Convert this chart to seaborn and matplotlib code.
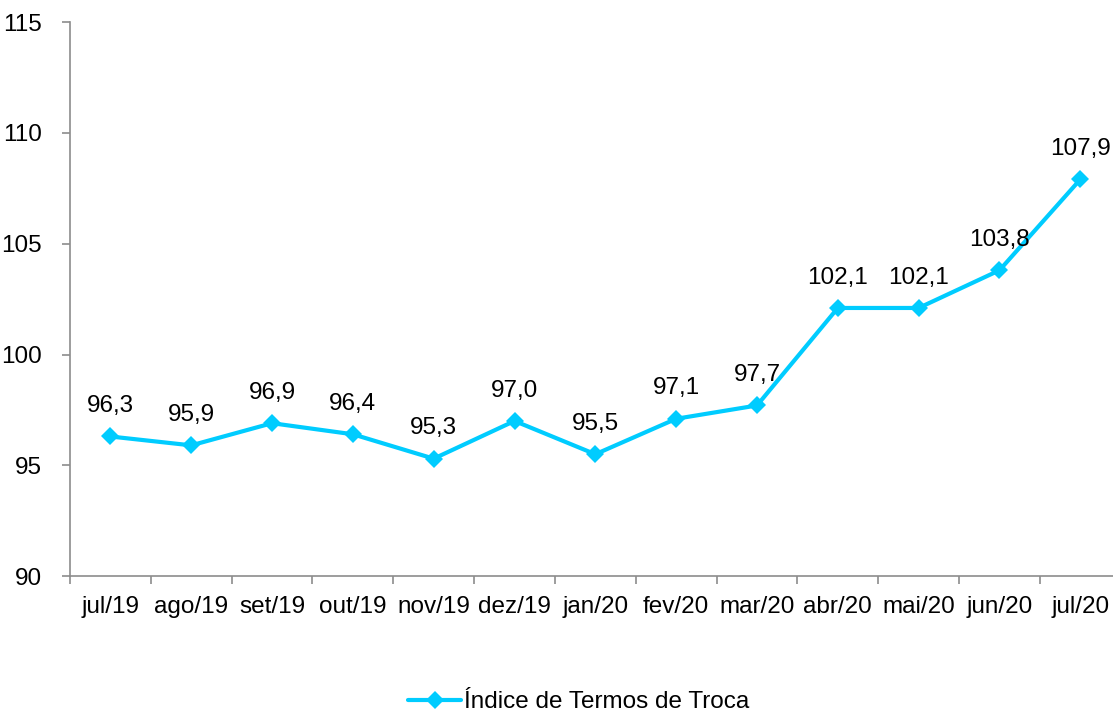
import numpy as np
import pandas as pd
import matplotlib
matplotlib.use('Agg')
import matplotlib.pyplot as plt
from matplotlib.ticker import FixedLocator
import seaborn as sns

# Data
months = ['jul/19', 'ago/19', 'set/19', 'out/19', 'nov/19', 'dez/19', 'jan/20',
          'fev/20', 'mar/20', 'abr/20', 'mai/20', 'jun/20', 'jul/20']
index_values = [96.3, 95.9, 96.9, 96.4, 95.3, 97.0, 95.5, 97.1, 97.7, 102.1, 102.1, 103.8, 107.9]
series_name = 'Índice de Termos de Troca'

sns.set_theme(style='white')
plt.rcParams['font.family'] = ['Liberation Sans', 'DejaVu Sans']

df = pd.DataFrame({'pos': np.arange(len(months)), 'value': index_values, 'serie': series_name})

line_color = '#00CCFF'
axis_color = '#8C8C8C'
fsize = 17.5

fig = plt.figure(figsize=(11.13, 7.13), dpi=100)
ax = fig.add_axes([0.0629, 0.192, 0.944, 0.777])

sns.lineplot(data=df, x='pos', y='value', hue='serie', palette=[line_color],
             marker='D', markersize=9, markeredgewidth=0, linewidth=3, ax=ax)

# data labels above points
for x, v in zip(df['pos'], df['value']):
    ax.annotate(f'{v:.1f}'.replace('.', ','), (x, v), xytext=(0, 14),
                textcoords='offset points', ha='center', va='bottom',
                fontsize=fsize, color='black')

ax.set_xlim(-0.5, len(months) - 0.5)
ax.set_ylim(90, 115)
ax.set_yticks(np.arange(90, 116, 5))
ax.set_xticks(df['pos'])
ax.set_xticklabels(months)
ax.xaxis.set_minor_locator(FixedLocator(np.arange(-0.5, len(months), 1)))
ax.tick_params(axis='x', which='major', length=0, pad=14, labelsize=fsize, colors='black')
ax.tick_params(axis='x', which='minor', length=6, width=1.2, color=axis_color, direction='out', bottom=True)
ax.tick_params(axis='y', length=6, width=1.2, color=axis_color, direction='out', left=True,
               labelsize=fsize, labelcolor='black', pad=14)
ax.set_xlabel('')
ax.set_ylabel('')

for side in ['top', 'right']:
    ax.spines[side].set_visible(False)
for side in ['left', 'bottom']:
    ax.spines[side].set_color(axis_color)
    ax.spines[side].set_linewidth(1.2)

leg = ax.legend(loc='center', bbox_to_anchor=(0.484, -0.228), frameon=False, fontsize=fsize,
                handlelength=2.2, handletextpad=0.1)
for t in leg.get_texts():
    t.set_color('black')

fig.savefig('out.png', dpi=100)
plt.close(fig)
